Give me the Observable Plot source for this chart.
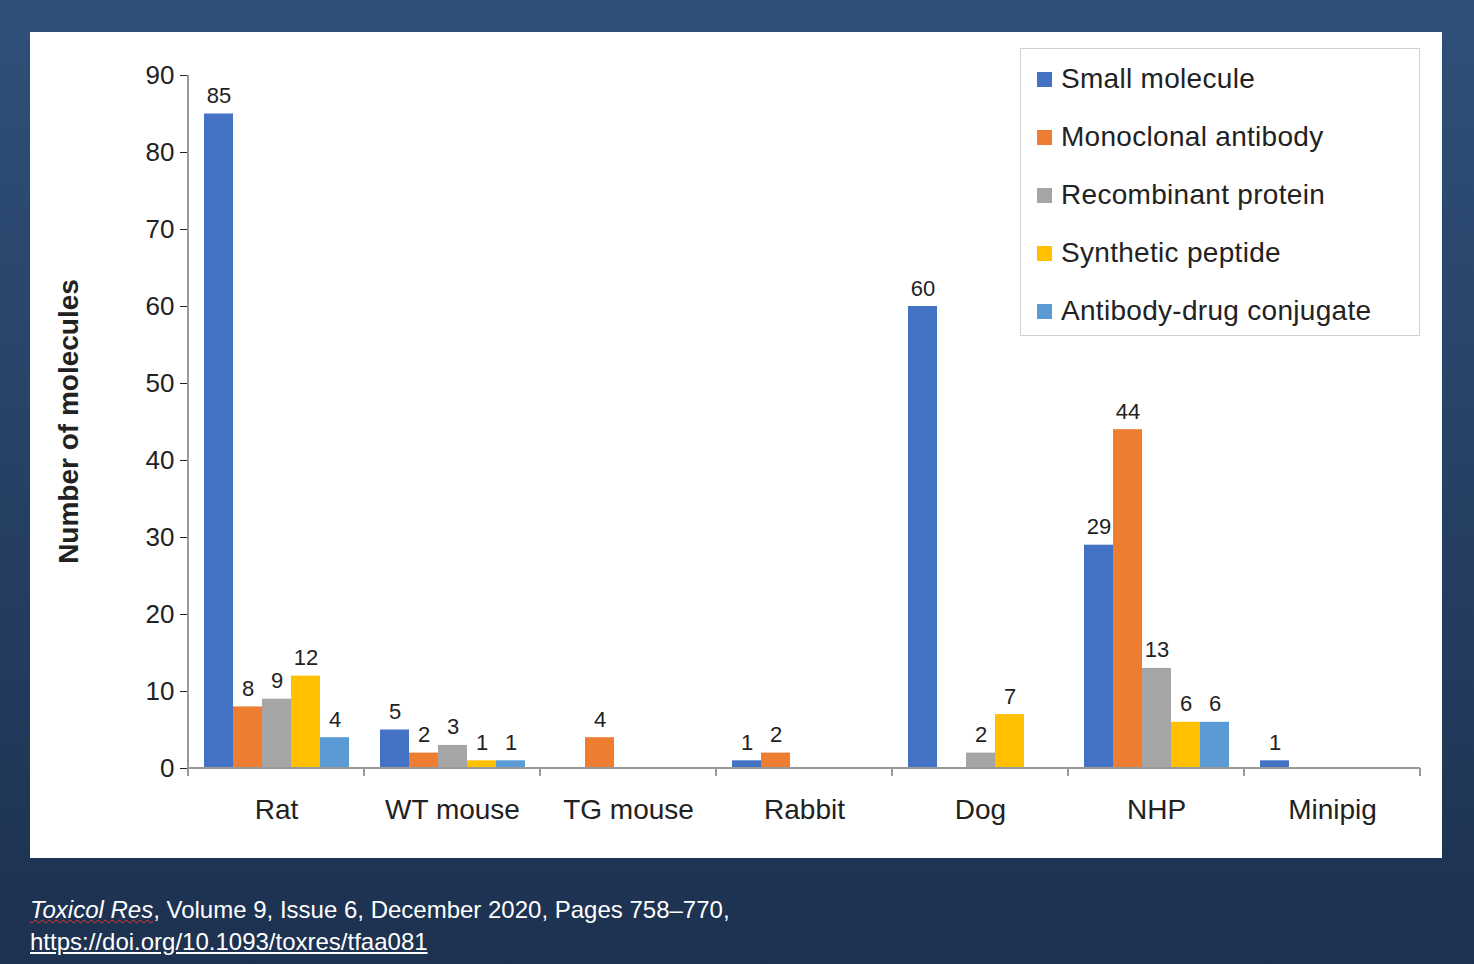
<!DOCTYPE html>
<html><head><meta charset="utf-8">
<script src="https://cdn.jsdelivr.net/npm/d3@7"></script>
<script src="https://cdn.jsdelivr.net/npm/@observablehq/plot@0.6"></script>
<style>
body{margin:0;width:1474px;height:964px;overflow:hidden;background:linear-gradient(#2f5079,#1d3150);font-family:"Liberation Sans",Arial,sans-serif;position:relative}
#panel{position:absolute;left:30px;top:32px;width:1412px;height:826px;background:#fff}
#legend{position:absolute;left:990px;top:16px;width:400px;height:288px;border:1.5px solid #d0d0d0;box-sizing:border-box;font-size:28px;color:#222;padding-top:10px}
#legend div{height:58px;line-height:40px;padding-left:40px;position:relative;letter-spacing:0.3px}
#legend span{position:absolute;left:16px;top:13px;width:15px;height:15px}
#foot{position:absolute;left:30px;top:894px;color:#fff;font-size:24px;line-height:32px}
#foot i{text-decoration:underline wavy #e33;text-decoration-thickness:1px}
#foot u{text-decoration:underline}
</style></head><body>
<div id="panel"></div>
<div id="foot"><i>Toxicol Res</i>, Volume 9, Issue 6, December 2020, Pages 758–770,<br><u>https://doi.org/10.1093/toxres/tfaa081</u></div>
<script>
const animals = ["Rat","WT mouse","TG mouse","Rabbit","Dog","NHP","Minipig"];
const types = ["Small molecule","Monoclonal antibody","Recombinant protein","Synthetic peptide","Antibody-drug conjugate"];
const colors = ["#4472C4","#ED7D31","#A5A5A5","#FFC000","#5B9BD5"];
const smallMolecule = [85,5,0,1,60,29,1];
const monoclonal = [8,2,4,2,0,44,0];
const recombinant = [9,3,0,0,2,13,0];
const synthetic = [12,1,0,0,7,6,0];
const adc = [4,1,0,0,0,6,0];
const yTicks = [0,10,20,30,40,50,60,70,80,90];

const series = [smallMolecule, monoclonal, recombinant, synthetic, adc];
const data = [];
series.forEach((s,i)=>s.forEach((v,j)=>{ if(v>0) data.push({animal:animals[j], type:types[i], value:v}); }));

const chart = Plot.plot({
  width:1412, height:826,
  marginLeft:158, marginRight:22, marginTop:43, marginBottom:90,
  style:{fontFamily:"Liberation Sans, Arial, sans-serif", color:"#222", background:"transparent"},
  fx:{domain:animals, padding:0, label:null},
  x:{domain:types, paddingInner:0, paddingOuter:0.5, axis:null},
  y:{domain:[0,90], ticks:yTicks, label:null},
  color:{domain:types, range:colors},
  marks:[
    Plot.axisFx({anchor:"bottom", tickSize:0, fontSize:28, dy:22, label:null}),
    Plot.axisY({ticks:yTicks, tickSize:8, fontSize:26, tickPadding:6, label:null}),
    Plot.barY(data,{fx:"animal", x:"type", y:"value", fill:"type"}),
    Plot.text(data,{fx:"animal", x:"type", y:"value", text:"value", dy:-18, fontSize:22, fill:"#222"})
  ]
});
document.getElementById("panel").appendChild(chart);

const svg = d3.select(chart);
const fx = chart.scale("fx"), y = chart.scale("y");
const y0 = y.apply(0), x0 = fx.apply(animals[0]), step = fx.bandwidth;
const g = svg.append("g").attr("stroke","#999").attr("stroke-width",2);
g.append("line").attr("x1",x0).attr("x2",x0+step*animals.length).attr("y1",y0).attr("y2",y0);
g.append("line").attr("x1",x0).attr("x2",x0).attr("y1",y.apply(90)).attr("y2",y0);
animals.forEach((a,i)=>{ const xx = x0+step*(i+1); g.append("line").attr("x1",xx).attr("x2",xx).attr("y1",y0).attr("y2",y0+8); });
g.append("line").attr("x1",x0).attr("x2",x0).attr("y1",y0).attr("y2",y0+8);
svg.append("text").attr("transform",`translate(48,${(y.apply(90)+y0)/2}) rotate(-90)`)
  .attr("text-anchor","middle").attr("font-size",28).attr("font-weight","bold").attr("fill","#222")
  .text("Number of molecules");

const leg = document.createElement("div"); leg.id="legend";
types.forEach((t,i)=>{ const d=document.createElement("div"); d.innerHTML=`<span style="background:${colors[i]}"></span>${t}`; leg.appendChild(d); });
document.getElementById("panel").appendChild(leg);
</script>
</body></html>
